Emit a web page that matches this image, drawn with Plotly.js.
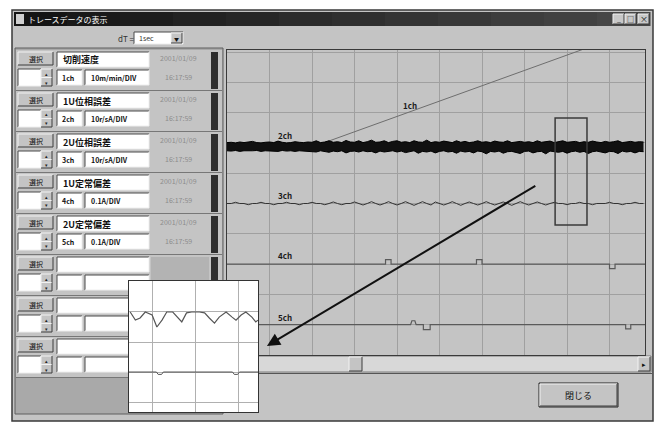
<!DOCTYPE html>
<html>
<head>
<meta charset="utf-8">
<script src="https://cdn.plot.ly/plotly-3.0.1.min.js"></script>
<style>
  html, body { margin: 0; padding: 0; background: #ffffff; }
  #wrap { position: relative; width: 659px; height: 423px; overflow: hidden; }
  #main { position: absolute; left: 0; top: 0; width: 659px; height: 423px; }
  #zoomview { position: absolute; left: 128px; top: 280px; width: 129px; height: 131px;
              border: 1px solid #333333; background: #ffffff; }
</style>
</head>
<body>
<div id="wrap">
  <div id="main"></div>
  <div id="zoomview"></div>
</div>
<script>
// ---- Channel panel contents ----
const channelNames  = ['切削速度', '1U位相誤差', '2U位相誤差', '1U定常偏差', '2U定常偏差', '', '', ''];
const channelIds    = ['1ch', '2ch', '3ch', '4ch', '5ch', '', '', ''];
const channelScales = ['10m/min/DIV', '10r/sA/DIV', '10r/sA/DIV', '0.1A/DIV', '0.1A/DIV', '', '', ''];
const recordDate = '2001/01/09';
const recordTime = '16:17:59';
const timeStepLabel = '1sec';

// ---- Waveforms (time and value in divisions) ----
const sampleStep = 0.1;

// 1ch: cutting speed, flat then ramping up
const ch1Time  = [0, 2.0, 9.84];
const ch1Value = [6.86, 6.86, 10.83];

// 2ch: noisy band, upper and lower envelope
const ch2Upper = [
  7.01,7.02,7.00,7.03,7.01,7.02,7.05,7.01,7.00,7.02,7.03,7.01,7.06,7.02,7.00,7.01,7.04,7.02,7.01,7.03,
  7.02,7.07,7.01,7.03,7.07,7.02,7.04,7.01,7.08,7.03,7.02,7.07,7.01,7.04,7.09,7.02,7.03,7.07,7.01,7.05,
  7.07,7.02,7.04,7.01,7.07,7.03,7.02,7.09,7.01,7.04,7.02,7.06,7.03,7.01,7.07,7.02,7.05,7.01,7.03,7.07,
  7.02,7.04,7.01,7.06,7.03,7.02,7.07,7.01,7.03,7.05,7.02,7.04,7.01,7.07,7.02,7.03,7.06,7.01,7.04,7.07,
  7.02,7.03,7.05,7.01,7.04,7.02,7.06,7.03,7.01,7.05,7.02,7.04,7.07,7.01,7.03,7.05,7.02,7.04,7.03
];
const ch2Lower = [
  6.74,6.73,6.75,6.72,6.74,6.73,6.74,6.75,6.72,6.74,6.73,6.74,6.72,6.75,6.73,6.74,6.72,6.74,6.73,6.72,
  6.73,6.70,6.74,6.72,6.69,6.73,6.71,6.74,6.67,6.72,6.73,6.70,6.74,6.71,6.72,6.67,6.73,6.70,6.72,6.74,
  6.70,6.73,6.68,6.72,6.74,6.66,6.72,6.70,6.73,6.67,6.72,6.74,6.70,6.72,6.66,6.73,6.70,6.72,6.67,6.73,
  6.71,6.64,6.72,6.70,6.73,6.66,6.71,6.72,6.69,6.65,6.72,6.73,6.67,6.71,6.72,6.64,6.73,6.70,6.69,6.72,
  6.66,6.71,6.73,6.69,6.72,6.65,6.71,6.73,6.70,6.67,6.72,6.71,6.65,6.73,6.70,6.72,6.67,6.72,6.71
];

// 3ch: thin trace with small spikes
const ch3Value = [
  5.00,5.00,5.04,5.00,5.00,4.96,5.00,5.00,5.04,5.00,5.00,4.96,5.00,5.00,5.04,5.00,5.00,4.96,5.00,5.00,
  5.04,5.00,5.00,4.96,5.00,5.05,5.00,4.96,5.00,5.00,5.05,5.00,4.95,5.00,5.06,5.00,4.95,5.00,5.06,5.00,
  4.95,5.00,5.06,5.00,4.94,5.00,5.06,5.00,4.95,5.05,5.00,4.95,5.00,5.06,5.00,4.94,5.00,5.05,5.00,4.95,
  5.00,5.06,5.00,4.95,5.00,5.05,5.00,4.94,5.00,5.06,5.00,4.95,5.00,5.05,5.00,4.95,5.00,5.04,5.00,5.00,
  4.96,5.00,5.00,5.04,5.00,5.00,4.96,5.00,5.00,5.00,5.04,5.00,5.00,4.96,5.00,5.00,5.04,5.00,5.00
];

// 4ch and 5ch: steady lines with short pulses
const ch4Time  = [0, 3.73, 3.73, 3.86, 3.86, 5.87, 5.87, 6.00, 6.00, 9.00, 9.00, 9.13, 9.13, 9.84];
const ch4Value = [3.0, 3.0, 3.15, 3.15, 3.0, 3.0, 3.15, 3.15, 3.0, 3.0, 2.85, 2.85, 3.0, 3.0];
const ch5Time  = [0, 4.32, 4.35, 4.42, 4.45, 4.62, 4.62, 4.78, 4.78, 9.38, 9.38, 9.50, 9.50, 9.84];
const ch5Value = [1.0, 1.0, 1.13, 1.13, 1.0, 1.0, 0.84, 0.84, 1.0, 1.0, 0.86, 0.86, 1.0, 1.0];

// Magnified view of 3ch / 5ch
const zoomTime = [-0.53,-0.41,-0.30,-0.18,-0.02,0.09,0.21,0.32,0.46,0.57,0.67,0.78,0.90,
                  1.08,1.20,1.31,1.43,1.54,1.70,1.84,1.93,2.05,2.16,2.30,2.39,2.44];
const zoomWave = [3.00,2.73,2.80,3.00,2.90,2.50,2.73,3.00,3.00,2.83,2.67,2.97,3.00,
                  3.00,2.97,2.80,2.63,2.83,3.00,2.83,2.73,2.90,3.00,2.83,2.67,2.73];
const zoomRefTime  = [-0.6, 0.08, 0.12, 0.20, 0.24, 1.85, 1.89, 1.97, 2.01, 2.5];
const zoomRefValue = [1.0, 1.0, 0.92, 0.92, 1.0, 1.0, 0.92, 0.92, 1.0, 1.0];

// ---- Drawing ----
const W = 659, H = 423;
const FONT = '"Noto Sans CJK JP", "DejaVu Sans", sans-serif';
const X = v => v / W;
const Y = v => 1 - v / H;
const shapes = [];
const ann = [];

function rect(x0, y0, x1, y1, fill, line, lw) {
  shapes.push({ type: 'rect', xref: 'paper', yref: 'paper', layer: 'below',
    x0: X(x0), x1: X(x1), y0: Y(y1), y1: Y(y0), fillcolor: fill,
    line: { color: line || 'rgba(0,0,0,0)', width: line ? (lw || 1) : 0 } });
}
function seg(x0, y0, x1, y1, color, lw) {
  shapes.push({ type: 'line', xref: 'paper', yref: 'paper', layer: 'below',
    x0: X(x0), x1: X(x1), y0: Y(y0), y1: Y(y1), line: { color: color, width: lw || 1 } });
}
function raised(x0, y0, x1, y1, fill) {
  rect(x0, y0, x1, y1, fill);
  seg(x0, y0, x1, y0, '#f2f2f2'); seg(x0, y0, x0, y1, '#f2f2f2');
  seg(x0, y1, x1, y1, '#3c3c3c'); seg(x1, y0, x1, y1, '#3c3c3c');
}
function sunken(x0, y0, x1, y1, fill) {
  rect(x0, y0, x1, y1, fill);
  seg(x0, y0, x1, y0, '#4a4a4a'); seg(x0, y0, x0, y1, '#4a4a4a');
  seg(x0, y1, x1, y1, '#eeeeee'); seg(x1, y0, x1, y1, '#eeeeee');
}
function label(x, y, text, size, color, anchor) {
  ann.push({ xref: 'paper', yref: 'paper', x: X(x), y: Y(y), text: text, showarrow: false,
    xanchor: anchor || 'left', yanchor: 'middle',
    font: { family: FONT, size: size, color: color } });
}

// window
rect(12, 10, 653, 421, '#c4c4c4', '#3a3a3a', 1.5);
// title bar with a dark gradient
const tbSteps = 12;
for (let i = 0; i < tbSteps; i++) {
  const c = Math.round(20 + (70 - 20) * i / (tbSteps - 1));
  const hex = '#' + c.toString(16).padStart(2, '0').repeat(3);
  const xa = 14 + (650 - 14) * i / tbSteps, xb = 14 + (650 - 14) * (i + 1) / tbSteps + 0.5;
  rect(xa, 12, xb, 26, hex);
}
rect(16, 14, 24, 24, '#cfcfcf');
label(26, 19.5, 'トレースデータの表示', 8, '#ffffff');
raised(613, 14, 624, 24, '#c8c8c8');
raised(625, 14, 636, 24, '#c8c8c8');
raised(638, 14, 649, 24, '#c8c8c8');
label(618.5, 19, '_', 7, '#111', 'center');
label(630.5, 19, '□', 7, '#111', 'center');
label(643.5, 19, '×', 8, '#111', 'center');

// time step selector
label(116, 38, 'dT =', 8, '#333');
sunken(134, 32, 183, 44, '#ffffff');
label(137, 38, timeStepLabel, 7, '#333');
raised(171, 33, 182, 43, '#c4c4c4');
label(176.5, 38, '▼', 5, '#111', 'center');

// channel panel
rect(15, 48, 223, 414, '#a9a9a9', '#5e5e5e', 1);
channelNames.forEach((name, i) => {
  const t = 50 + 41 * i;
  rect(16, t, 222, t + 40, '#c4c4c4');
  seg(16, t + 40.5, 222, t + 40.5, '#777777');
  raised(18, t + 2, 53, t + 15, '#c4c4c4');
  label(35.5, t + 8.5, '選択', 7, '#111', 'center');
  sunken(18, t + 19, 41, t + 36, '#ffffff');
  raised(41, t + 19, 52, t + 27.5, '#c4c4c4');
  raised(41, t + 27.5, 52, t + 36, '#c4c4c4');
  label(46.5, t + 23, '▴', 5, '#222', 'center');
  label(46.5, t + 32, '▾', 5, '#222', 'center');
  sunken(57, t + 2, 149, t + 17, '#ffffff');
  sunken(57, t + 20, 82, t + 35, '#ffffff');
  sunken(85, t + 20, 149, t + 35, '#ffffff');
  if (name) {
    label(61, t + 10, '<b>' + name + '</b>', 9, '#111');
    label(60, t + 27.5, '<b>' + channelIds[i] + '</b>', 7, '#111');
    label(89, t + 27.5, '<b>' + channelScales[i] + '</b>', 7, '#111');
    label(179, t + 8, recordDate, 7, '#8c8c8c', 'center');
    label(179, t + 27, recordTime, 7, '#8c8c8c', 'center');
  } else {
    rect(151, t + 2, 209, t + 38, '#b3b3b3');
  }
  rect(211, t + 2, 218, t + 39, '#2e2e2e');
});

// scroll bar under the chart
rect(227, 356, 651, 372, '#d8d8d8', '#7a7a7a', 1);
raised(349, 357, 362, 371, '#c4c4c4');
raised(638, 357, 650, 371, '#c4c4c4');
label(644, 364, '▸', 7, '#111', 'center');
seg(227, 373.5, 652, 373.5, '#555555', 1);

// close button
rect(539, 383, 618, 407, '#c4c4c4', '#222222', 1);
raised(540, 384, 617, 406, '#c4c4c4');
label(578.5, 395, '閉じる', 9, '#111', 'center');

// channel labels placed next to each trace (x, y in divisions)
const traceLabelAt = [[4.31, 8.25], [1.36, 7.26], [1.36, 5.28], [1.36, 3.27], [1.36, 1.25]];
traceLabelAt.forEach((p, i) => {
  ann.push({ xref: 'x', yref: 'y', x: p[0], y: p[1], text: '<b>' + channelIds[i] + '</b>',
    showarrow: false, font: { family: FONT, size: 8, color: '#1a1a1a' } });
});

// highlight box around the magnified section and pointer arrow
shapes.push({ type: 'rect', xref: 'x', yref: 'y', layer: 'above',
  x0: 7.72, x1: 8.47, y0: 4.29, y1: 7.82, line: { color: '#3a3a3a', width: 1.5 } });
ann.push({ xref: 'x', yref: 'y', axref: 'x', ayref: 'y', x: 0.94, y: 0.30, ax: 7.29, ay: 5.61,
  text: '', showarrow: true, arrowhead: 2, arrowsize: 1.3, arrowwidth: 2, arrowcolor: '#111111' });

const sampledTime = ch2Upper.map((_, i) => i * sampleStep);

const traces = [
  { x: ch1Time, y: ch1Value, mode: 'lines', line: { color: '#6e6e6e', width: 1 }, hoverinfo: 'skip' },
  { x: sampledTime, y: ch2Upper, mode: 'lines', line: { color: '#000000', width: 1 }, hoverinfo: 'skip' },
  { x: sampledTime, y: ch2Lower, mode: 'lines', fill: 'tonexty', fillcolor: '#111111',
    line: { color: '#000000', width: 1 }, hoverinfo: 'skip' },
  { x: sampledTime, y: ch3Value, mode: 'lines', line: { color: '#333333', width: 1 }, hoverinfo: 'skip' },
  { x: ch4Time, y: ch4Value, mode: 'lines', line: { color: '#5a5a5a', width: 1.2 }, hoverinfo: 'skip' },
  { x: ch5Time, y: ch5Value, mode: 'lines', line: { color: '#5a5a5a', width: 1.2 }, hoverinfo: 'skip' }
];

const gridAxis = { dtick: 1, tick0: 0, showticklabels: false, ticks: '', gridcolor: '#a0a0a0',
  gridwidth: 1, zeroline: false, showline: true, mirror: true, linecolor: '#3a3a3a', linewidth: 1 };

const layout = {
  width: W, height: H, margin: { l: 0, r: 0, t: 0, b: 0 },
  paper_bgcolor: '#ffffff', plot_bgcolor: '#ffffff', showlegend: false,
  xaxis: Object.assign({ domain: [227 / W, 645 / W], range: [0, 9.835] }, gridAxis),
  yaxis: Object.assign({ domain: [1 - 355 / H, 1 - 50 / H], range: [0, 10.066] }, gridAxis),
  shapes: shapes, annotations: ann
};

Plotly.newPlot('main', traces, layout, { staticPlot: true });

// magnified view
const zoomTraces = [
  { x: zoomTime, y: zoomWave, mode: 'lines', line: { color: '#555555', width: 1.2 }, hoverinfo: 'skip' },
  { x: zoomRefTime, y: zoomRefValue, mode: 'lines', line: { color: '#555555', width: 1 }, hoverinfo: 'skip' }
];
const zoomAxis = { dtick: 1, tick0: 0, showticklabels: false, ticks: '', gridcolor: '#b0b0b0',
  gridwidth: 1, zeroline: false, showline: false };
Plotly.newPlot('zoomview', zoomTraces, {
  width: 129, height: 131, margin: { l: 0, r: 0, t: 0, b: 0 },
  paper_bgcolor: '#ffffff', plot_bgcolor: '#ffffff', showlegend: false,
  xaxis: Object.assign({ range: [-0.558, 2.442] }, zoomAxis),
  yaxis: Object.assign({ range: [-0.333, 4.033] }, zoomAxis)
}, { staticPlot: true });
</script>
</body>
</html>
